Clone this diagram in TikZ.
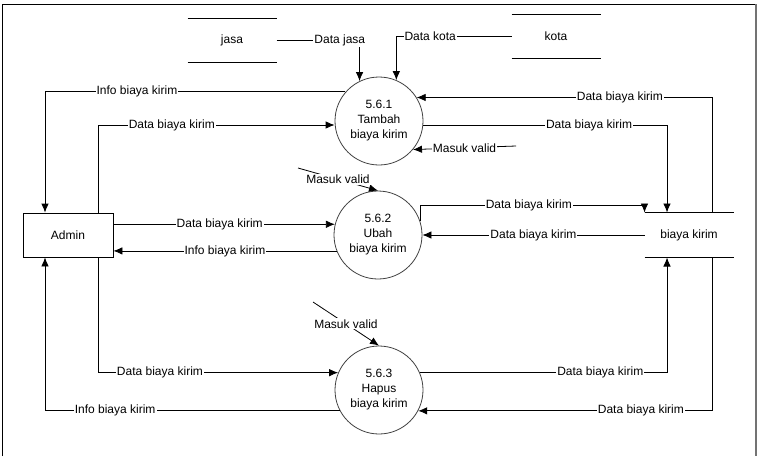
\documentclass[tikz,border=0pt]{standalone}
\usepackage{fontspec}
\setmainfont{Liberation Sans}
\usetikzlibrary{arrows.meta, positioning}

\begin{document}
\begin{tikzpicture}[
    x=1pt, y=-1pt,
    font=\fontsize{12}{15}\selectfont,
    line width=0.8pt,
    process/.style={circle, draw=black!75, minimum size=88pt, inner sep=0pt, align=center},
    entity/.style={rectangle, draw, minimum width=90pt, minimum height=44pt},
    store/.style={rectangle, minimum width=89pt, minimum height=44pt, outer sep=0pt},
    arrow/.style={-{Latex[length=9pt,width=7.5pt]}},
    lbl/.style={fill=white, inner sep=1pt}
]
\useasboundingbox (0,0) rectangle (759,456);
\draw (2,456) -- (2,4) -- (756,4);
\draw[black!55, line width=1.5pt] (756,4) -- (756,456);

\node[entity] (admin) at (68,235) {Admin};
\node[process] (p1) at (379,121) {5.6.1\\Tambah\\biaya kirim};
\node[process] (p2) at (378,235) {5.6.2\\Ubah\\biaya kirim};
\node[process] (p3) at (379,390) {5.6.3\\Hapus\\biaya kirim};
\node[store] (jasa) at (232,40) {jasa};
\node[store] (kota) at (556,36) {kota};
\node[store, minimum height=45pt] (biaya) at (689,235) {biaya kirim};
\foreach \s in {jasa, kota, biaya} {
  \draw (\s.north west) -- (\s.north east);
  \draw (\s.south west) -- (\s.south east);
}
\coordinate (mv1) at (516,146);
\coordinate (mv2) at (298,168);
\coordinate (mv3) at (313,302);

\draw[arrow] (jasa.east) -| node[lbl, pos=0.381] {Data jasa} (p1.116);
\draw[arrow] (kota.west) -| node[lbl, pos=0.353] {Data kota} (p1.67);
\draw[arrow] (p1.139) -| node[lbl, pos=0.347] {Info biaya kirim} ([xshift=-23pt]admin.north);
\draw[arrow] ([xshift=30pt]admin.north) |- node[lbl, pos=0.656] {Data biaya kirim} ([yshift=-4pt]p1.west);
\draw[arrow] ([xshift=23pt]biaya.north) |- node[lbl, pos=0.656] {Data biaya kirim} (p1.32);
\draw[arrow] ([yshift=-4pt]p1.east) -| node[lbl, pos=0.340] {Data biaya kirim} ([xshift=-22pt]biaya.north);
\draw[arrow] (mv1) -- node[lbl] {Masuk valid} (p1.-40);

\draw[arrow] (admin.east |- p2.166) -- node[lbl, pos=0.48] {Data biaya kirim} (p2.166);
\draw[arrow] (p2.201) -- node[lbl] {Info biaya kirim} (admin.east |- p2.201);
\draw[arrow] (biaya.west) -- node[lbl] {Data biaya kirim} (p2.east);
\draw[arrow] (p2.18) -- ++(0,-16) -| node[lbl, pos=0.242] {Data biaya kirim} (biaya.north west);
\draw[arrow] (mv2) -- node[lbl] {Masuk valid} (p2.north);

\draw[arrow] ([xshift=30pt]admin.south) |- node[lbl, pos=0.629] {Data biaya kirim} (p3.157);
\draw[arrow] (p3.208) -| node[lbl, pos=0.381] {Info biaya kirim} ([xshift=-23pt]admin.south);
\draw[arrow] (p3.23) -| node[lbl, pos=0.365] {Data biaya kirim} ([xshift=-22pt]biaya.south);
\draw[arrow] ([xshift=23pt]biaya.south) |- node[lbl, pos=0.621] {Data biaya kirim} (p3.-28);
\draw[arrow] (mv3) -- node[lbl] {Masuk valid} (p3.north);
\end{tikzpicture}
\end{document}
